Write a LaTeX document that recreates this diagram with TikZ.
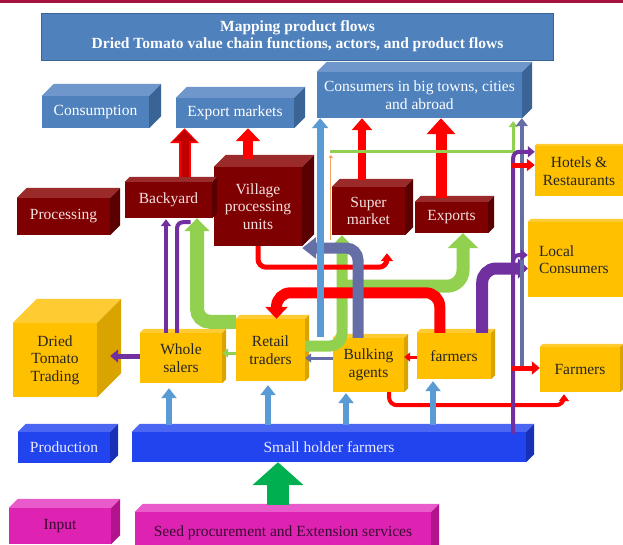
\documentclass[tikz,border=0pt]{standalone}
\usepackage{fontspec}
\setmainfont{Liberation Serif}
\usepackage{xcolor}
\usepackage{tikz}
\usetikzlibrary{positioning,arrows.meta,calc}

\definecolor{cblue}{HTML}{4F81BD}
\definecolor{ctopblue}{HTML}{6F97CB}
\definecolor{csideblue}{HTML}{3A6396}
\definecolor{cmaroon}{HTML}{7F0000}
\definecolor{ctopmaroon}{HTML}{9B2A2A}
\definecolor{csidemaroon}{HTML}{5A0000}
\definecolor{cpink}{HTML}{F4E1E1}
\definecolor{cyellow}{HTML}{FFC000}
\definecolor{ctopyellow}{HTML}{FFCB33}
\definecolor{csideyellow}{HTML}{D9A300}
\definecolor{cprod}{HTML}{2244EE}
\definecolor{ctopprod}{HTML}{4A66F2}
\definecolor{csideprod}{HTML}{1630B8}
\definecolor{cmag}{HTML}{DE23B3}
\definecolor{ctopmag}{HTML}{E95BCB}
\definecolor{csidemag}{HTML}{B2148E}
\definecolor{cmagtext}{HTML}{3A0A32}
\definecolor{lblue}{HTML}{5B9BD5}
\definecolor{lgreen}{HTML}{92D050}
\definecolor{dgreen}{HTML}{00B050}
\definecolor{dred}{HTML}{C00000}
\definecolor{cpurple}{HTML}{7030A0}
\definecolor{cslate}{HTML}{666EA6}
\definecolor{corange}{HTML}{F4A460}
\definecolor{crim}{HTML}{A4123F}

% top and right faces of a solid box
\newcommand{\boxfaces}[4]{%
  \fill[#3] (#1.north west) -- ++(#2,-#2) -- ($(#1.north east)+(#2,-#2)$) -- (#1.north east) -- cycle;
  \fill[#4] (#1.north east) -- ++(#2,-#2) -- ($(#1.south east)+(#2,-#2)$) -- (#1.south east) -- cycle;}

\tikzset{
  blk/.style={inner sep=0pt, align=center, font=\fontsize{15.5}{17.5}\selectfont},
  bluebox/.style={blk, fill=cblue, text=white},
  redbox/.style={blk, fill=cmaroon, text=cpink},
  yelbox/.style={blk, fill=cyellow, text=black!85},
  prodbox/.style={blk, fill=cprod, text=white!92!blue},
  magbox/.style={blk, fill=cmag, text=cmagtext},
  flowarr/.style n args={4}{draw=#1, line width=#2, -{Triangle[width=#3,length=#4]}}
}

\begin{document}
\begin{tikzpicture}[x=1pt, y=-1pt]
\useasboundingbox (0,0) rectangle (623,544);
\fill[white] (0,0) rectangle (623,544);
\fill[crim] (0,0) rectangle (623,2.5);

% title
\node[bluebox, draw=csideblue, line width=1pt, minimum width=512pt, minimum height=47pt,
  font=\fontsize{15.5}{17}\selectfont\bfseries] (title) at (297.5,36.5)
  {Mapping product flows\\Dried Tomato value chain functions, actors, and product flows};

% consumption level
\node[bluebox, minimum width=107pt, minimum height=32pt] (consumption) at (95.5,112) {Consumption};
\node[bluebox, minimum width=118pt, minimum height=30pt] (export) at (235,113) {Export markets};
\node[bluebox, minimum width=205pt, minimum height=46pt] (consumers) at (419.5,95) {Consumers in big towns, cities\\and abroad};
\foreach \n/\d in {consumption/12, export/11, consumers/10}
  {\boxfaces{\n}{\d}{ctopblue}{csideblue}}

% processing level
\node[redbox, minimum width=93pt, minimum height=37pt] (processing) at (63.5,216.5) {Processing};
\node[redbox, minimum width=87pt, minimum height=36pt] (backyard) at (168.5,200) {Backyard};
\node[redbox, minimum width=88pt, minimum height=79pt] (village) at (258,206.5) {Village\\processing\\units};
\node[redbox, minimum width=73pt, minimum height=48pt] (super) at (368.5,211) {Super\\market};
\node[redbox, minimum width=73pt, minimum height=31pt] (exports) at (451.5,217.5) {Exports};
\foreach \n/\d in {processing/10, backyard/5, village/12, super/8, exports/6}
  {\boxfaces{\n}{\d}{ctopmaroon}{csidemaroon}}

% trading level
\node[yelbox, minimum width=88pt, minimum height=50pt] (hotels) at (579,171) {Hotels \&\\Restaurants};
\node[yelbox, align=left, text width=82pt, inner xsep=11pt, minimum height=75pt] (local) at (580,259.5) {Local\\Consumers};
\node[yelbox, minimum width=80pt, minimum height=45pt] (farmersR) at (580,369.5) {Farmers};
\node[yelbox, minimum width=84pt, minimum height=74pt] (dried) at (55,360) {Dried\\Tomato\\Trading};
\node[yelbox, minimum width=82pt, minimum height=50pt] (whole) at (181,358) {Whole\\salers};
\node[yelbox, minimum width=69pt, minimum height=62pt] (retail) at (270.5,350) {Retail\\traders};
\node[yelbox, minimum width=71pt, minimum height=54pt] (bulking) at (368.5,365) {Bulking\\agents};
\node[yelbox, minimum width=74pt, minimum height=46pt] (farmers) at (454,356) {farmers};
\foreach \n/\d in {hotels/2, local/3, farmersR/3, dried/24, whole/4, retail/4, bulking/4, farmers/4}
  {\boxfaces{\n}{\d}{ctopyellow}{csideyellow}}

% production and input
\node[prodbox, minimum width=92pt, minimum height=31pt] (production) at (64,447.5) {Production};
\node[prodbox, minimum width=394pt, minimum height=30pt] (small) at (329,447) {Small holder farmers};
\foreach \n/\d in {production/8, small/8}
  {\boxfaces{\n}{\d}{ctopprod}{csideprod}}
\node[magbox, minimum width=102pt, minimum height=36pt] (input) at (60,526) {Input};
\node[magbox, minimum width=296pt, minimum height=42pt] (seed) at (283,533) {Seed procurement and Extension services};
\foreach \n/\d in {input/9, seed/8}
  {\boxfaces{\n}{\d}{ctopmag}{csidemag}}

% wholesalers up to backyard
\draw[flowarr={cpurple}{4pt}{10pt}{7pt}] ($(whole.north)+(-15,0)$) -- ($(whole.north |- backyard.south)+(-15,1)$);
\draw[cpurple, line width=4pt, rounded corners=6pt] ($(whole.north)+(-4,0)$) |- ($(backyard.south)+(22,4)$);

% big green flows
\draw[flowarr={lgreen}{14pt}{25pt}{13pt}, rounded corners=13pt] ($(retail.north west)+(0,3)$) -| ($(backyard.south)+(28.5,0)$);
\draw[flowarr={lgreen}{11pt}{22pt}{12pt}, rounded corners=12pt] ($(retail.east)+(0,-4)$) -| ($(super.south)+(-26.5,0)$);
\draw[flowarr={lgreen}{13pt}{30pt}{15pt}, rounded corners=16pt] ($(super.south)+(-26.5,51)$) -| ($(exports.south)+(11.5,0)$);

% farmers to retail traders
\coordinate (rt) at ($(retail.north)+(6,0)$);
\draw[flowarr={red}{11pt}{22pt}{12pt}, rounded corners=14pt] ($(farmers.north west)+(23,0)$) |- ($(rt)+(0,-26)$) -- (rt);

% village units out
\draw[flowarr={red}{5pt}{12pt}{8pt}, rounded corners=8pt] (village.south) |- ($(super.south)+(18.5,32)$) -- ($(super.south)+(18.5,18)$);

% bulking agents to village units
\draw[flowarr={cslate}{11pt}{21pt}{14pt}, rounded corners=12pt] ($(bulking.north)+(-10.5,0)$) |- ($(village.east)+(0,41.5)$);

% long blue to big towns
\coordinate (bl) at ($(retail.north east)+(15,18)$);
\draw[flowarr={lblue}{7pt}{16pt}{10pt}] (bl) -- (bl |- consumers.south);

% backyard to export markets
\coordinate (by) at ($(backyard.north)+(16,-5)$);
\draw[flowarr={red}{12pt}{28pt}{15pt}] (by) -- (by |- export.south);
\draw[flowarr={dred}{8pt}{22pt}{11pt}, shorten >=1.8pt] (by) -- (by |- export.south);

% red flows upwards
\foreach \n/\dx/\dy/\t/\lw/\hw/\hl in {village/-10/-8/export/10pt/24pt/13pt,
    super/-6.5/-7/consumers/8pt/20pt/12pt, exports/-10.5/-4/consumers/11pt/28pt/16pt}
  {\coordinate (s) at ($(\n.north)+(\dx,\dy)$);
   \draw[flowarr={red}{\lw}{\hw}{\hl}] (s) -- (s |- \t.south);}

% thin green and orange
\coordinate (gl) at ($(super.north west)+(-2,-35)$);
\draw[corange, line width=1.2pt, -{Triangle[width=4pt,length=3pt]}] ($(super.south west)+(-1,5)$) -- ($(gl)+(1,3)$);
\draw[flowarr={lgreen}{3pt}{9pt}{6pt}] (gl) -| ($(consumers.south east)+(-9,3)$);

% farmers to local consumers
\draw[flowarr={cpurple}{12pt}{20pt}{10pt}, rounded corners=14pt] ($(farmers.north east)+(-9,0)$) |- ($(local.west)+(0,9)$);

% bulking agents to farmers
\draw[flowarr={red}{4pt}{10pt}{7pt}, rounded corners=8pt] ($(bulking.south)+(20.5,0)$) |- ($(farmersR.south)+(-16,13)$) -- ($(farmersR.south)+(-16,2)$);

% right hand verticals
\coordinate (sv) at ($(farmersR.west)+(-18,-1.5)$);
\draw[flowarr={cslate}{4pt}{12pt}{8pt}] (sv) -- (sv |- consumers.south);
\coordinate (pv) at ($(small.north east)+(-13,2)$);
\draw[flowarr={cpurple}{4pt}{11pt}{7pt}, rounded corners=6pt] (pv) |- ($(hotels.north west)+(0,6)$);
\draw[flowarr={cpurple}{4pt}{11pt}{7pt}, rounded corners=6pt] ($(pv |- local.west)+(0,12)$) |- ($(local.west)+(0,-4.5)$);
\draw[flowarr={red}{5pt}{12pt}{8pt}] ($(hotels.west)+(-24,-6)$) -- ($(hotels.west)+(0,-6)$);
\draw[flowarr={red}{5pt}{13pt}{8pt}] ($(farmersR.west)+(-28,-1.5)$) -- ($(farmersR.west)+(0,-1.5)$);

% short flows between traders
\draw[flowarr={red}{3pt}{9pt}{6pt}] ($(farmers.west)+(0,1)$) -- ($(bulking.east)+(0,-8)$);
\draw[flowarr={cslate}{3pt}{9pt}{6pt}] ($(bulking.west)+(0,-7)$) -- ($(retail.east)+(0,8)$);
\draw[flowarr={lgreen}{3pt}{9pt}{6pt}] ($(retail.west)+(0,3)$) -- ($(whole.east)+(0,-5)$);
\draw[flowarr={cpurple}{5pt}{13pt}{8pt}] ($(whole.west)+(0,-2)$) -- ($(dried.east)+(13,-4)$);

% small holder farmers up to traders
\foreach \n/\dx/\dy in {whole/-12/5, retail/-2.5/4, bulking/-22.5/1, farmers/-21/2}
  \draw[flowarr={lblue}{6pt}{15pt}{10pt}] ($(\n.south |- small.north)+(\dx,-7)$) -- ($(\n.south)+(\dx,\dy)$);

% inputs to production
\draw[flowarr={dgreen}{22pt}{50pt}{23pt}] ($(seed.north)+(-5,-7)$) -- ($(small.south)+(-51,0)$);
\end{tikzpicture}
\end{document}
